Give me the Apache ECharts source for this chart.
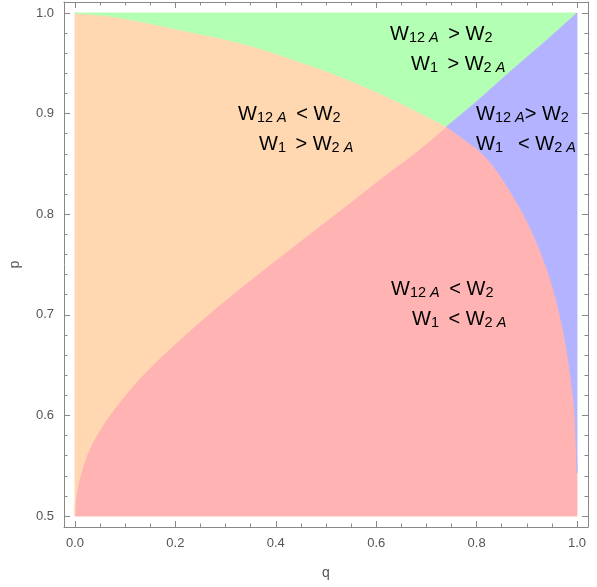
<!DOCTYPE html>
<html>
<head>
<meta charset="utf-8">
<script src="https://cdn.jsdelivr.net/npm/echarts@6/dist/echarts.min.js"></script>
<style>html,body{margin:0;padding:0;background:#fff}#c{width:597px;height:587px}</style>
</head>
<body>
<div id="c"></div>
<script>
// Boundary curve W1 = W2A (q, p)
const c1Q = [0, 0.0006, 0.0022, 0.0057, 0.0107, 0.0234, 0.043, 0.069, 0.100, 0.1354, 0.1758, 0.2195, 0.265, 0.3134, 0.3635, 0.4147, 0.4665, 0.5184, 0.570, 0.621, 0.675, 0.74, 0.80, 0.87, 0.935, 1.0];
const c1P = [0.5, 0.51, 0.52, 0.53, 0.54, 0.56, 0.58, 0.60, 0.62, 0.64, 0.66, 0.68, 0.70, 0.72, 0.74, 0.76, 0.78, 0.80, 0.82, 0.84, 0.86, 0.887, 0.912, 0.943, 0.971, 1.0];
// Boundary curve W12A = W2 (q, p)
const c2Q = [0, 0.08, 0.173, 0.239, 0.306, 0.372, 0.438, 0.504, 0.571, 0.637, 0.703, 0.74, 0.776, 0.809, 0.842, 0.882, 0.909, 0.934, 0.953, 0.968, 0.9796, 0.989, 0.9958, 1.0];
const c2P = [1.0, 0.996, 0.987, 0.980, 0.973, 0.964, 0.953, 0.9415, 0.928, 0.913, 0.8965, 0.887, 0.874, 0.861, 0.842, 0.810, 0.784, 0.754, 0.725, 0.695, 0.665, 0.632, 0.599, 0.543];
const crossQ = 0.74;
const qRange = [0, 1];
const pRange = [0.5, 1];
const xMajor = [0, 0.2, 0.4, 0.6, 0.8, 1.0];
const xMinor = [0.05,0.1,0.15,0.25,0.3,0.35,0.45,0.5,0.55,0.65,0.7,0.75,0.85,0.9,0.95];
const yMajor = [0.5, 0.6, 0.7, 0.8, 0.9, 1.0];
const yMinor = [0.52,0.54,0.56,0.58,0.62,0.64,0.66,0.68,0.72,0.74,0.76,0.78,0.82,0.84,0.86,0.88,0.92,0.94,0.96,0.98];
const regionNames = ['red', 'orange', 'green', 'blue'];
const regionColors = ['#FFB3B3', '#FFD7B1', '#B3FFB3', '#B3B3FF'];

const c1 = c1Q.map((q, i) => [q, c1P[i]]);
const c2 = c2Q.map((q, i) => [q, c2P[i]]);
const i1 = c1Q.indexOf(crossQ), i2 = c2Q.indexOf(crossQ);
const c1Low = c1.slice(0, i1 + 1), c1Up = c1.slice(i1);
const c2Left = c2.slice(0, i2 + 1), c2Right = c2.slice(i2);
const q0 = qRange[0], q1 = qRange[1], p0 = pRange[0], p1 = pRange[1];
const rev = a => a.slice().reverse();
// region outlines: list of pieces [points, smooth]
const regions = {
  red: [[c1Low, true], [c2Right, true], [[c2Right[c2Right.length - 1], [q1, p0]], false]],
  orange: [[c2Left, true], [rev(c1Low), true]],
  green: [[c2Left, true], [c1Up, true]],
  blue: [[c1Up, true], [[[q1, p1], c2Right[c2Right.length - 1]], false], [rev(c2Right), true]]
};

// smooth drawing of a boundary through its points (Catmull-Rom in pixel space)
function smoothPixels(px) {
  const out = [px[0]];
  const n = px.length;
  for (let i = 0; i < n - 1; i++) {
    const a = px[Math.max(i - 1, 0)], b = px[i], c = px[i + 1], d = px[Math.min(i + 2, n - 1)];
    const cp1 = [b[0] + (c[0] - a[0]) / 6, b[1] + (c[1] - a[1]) / 6];
    const cp2 = [c[0] - (d[0] - b[0]) / 6, c[1] - (d[1] - b[1]) / 6];
    const steps = 10;
    for (let s = 1; s <= steps; s++) {
      const t = s / steps, u = 1 - t;
      out.push([
        u*u*u*b[0] + 3*u*u*t*cp1[0] + 3*u*t*t*cp2[0] + t*t*t*c[0],
        u*u*u*b[1] + 3*u*u*t*cp1[1] + 3*u*t*t*cp2[1] + t*t*t*c[1]
      ]);
    }
  }
  return out;
}

const XMIN = -0.0218, XMAX = 1.0218, YMIN = 0.4891, YMAX = 1.0109;
const frameColor = '#888';
const labelColor = '#555';
const font = 'Liberation Sans, Arial, sans-serif';

function xAx(pos, major, showLabel) {
  return {
    type: 'value', min: XMIN, max: XMAX, position: pos,
    axisLine: { show: major, onZero: false, lineStyle: { color: frameColor, width: 1 } },
    axisTick: { show: true, inside: true, length: major ? 6 : 3.5, customValues: major ? xMajor : xMinor, lineStyle: { color: frameColor } },
    axisLabel: { show: showLabel, customValues: xMajor, formatter: v => v.toFixed(1), color: labelColor, fontSize: 13, fontFamily: font, margin: 10 },
    splitLine: { show: false },
    name: showLabel ? 'q' : '', nameLocation: 'middle', nameGap: 39,
    nameTextStyle: { color: labelColor, fontSize: 14, fontFamily: font }
  };
}
function yAx(pos, major, showLabel) {
  return {
    type: 'value', min: YMIN, max: YMAX, position: pos,
    axisLine: { show: major, onZero: false, lineStyle: { color: frameColor, width: 1 } },
    axisTick: { show: true, inside: true, length: major ? 6 : 3.5, customValues: major ? yMajor : yMinor, lineStyle: { color: frameColor } },
    axisLabel: { show: showLabel, customValues: yMajor, formatter: v => v.toFixed(1), color: labelColor, fontSize: 13, fontFamily: font, margin: 10 },
    splitLine: { show: false },
    name: showLabel ? 'p' : '', nameLocation: 'middle', nameGap: 42,
    nameTextStyle: { color: labelColor, fontSize: 14, fontFamily: font }
  };
}

const series = regionNames.map((name, k) => ({
  type: 'custom', name: name, xAxisIndex: 0, yAxisIndex: 0,
  data: [[0, 0]], silent: true, z: 2,
  renderItem: function (params, api) {
    let pts = [];
    regions[name].forEach(([piece, smooth]) => {
      const px = piece.map(d => api.coord(d));
      const seg = smooth ? smoothPixels(px) : px;
      pts = pts.concat(pts.length ? seg.slice(1) : seg);
    });
    return { type: 'polygon', shape: { points: pts }, style: { fill: regionColors[k], stroke: regionColors[k], lineWidth: 0.8 } };
  }
}));

const rich = {
  m: { fontSize: 20, fontFamily: font, fill: '#000', lineHeight: 24, verticalAlign: 'bottom', padding: [0, 0, 1, 0] },
  o: { fontSize: 20, fontFamily: font, fill: '#000', lineHeight: 24, verticalAlign: 'bottom', padding: [0, 0, 1, 4] },
  s: { fontSize: 14.5, fontFamily: font, fill: '#000', lineHeight: 14, verticalAlign: 'bottom' },
  si: { fontSize: 14.5, fontFamily: font, fontStyle: 'italic', fill: '#000', lineHeight: 14, verticalAlign: 'bottom' }
};
function txt(x, y, t) {
  return { type: 'text', x: x, y: y, z: 100, silent: true, style: { text: t, rich: rich, fill: '#000', verticalAlign: 'bottom', align: 'left' } };
}
const L_12A_gt = '{m|W}{s|12 }{si|A}{o| > W}{s|2}';
const L_12A_lt = '{m|W}{s|12 }{si|A}{o| < W}{s|2}';
const L_1_gt = '{m|W}{s|1}{o| > W}{s|2 }{si|A}';
const L_1_lt = '{m|W}{s|1}{o| < W}{s|2 }{si|A}';

const chart = echarts.init(document.getElementById('c'), null, { renderer: 'canvas' });
chart.setOption({
  animation: false,
  grid: { left: 62, right: 9, top: 2, bottom: 60 },
  xAxis: [xAx('bottom', true, true), xAx('bottom', false, false), xAx('top', true, false), xAx('top', false, false)],
  yAxis: [yAx('left', true, true), yAx('left', false, false), yAx('right', true, false), yAx('right', false, false)],
  series: series,
  graphic: [
    txt(390, 45, L_12A_gt), txt(411, 75, L_1_gt),
    txt(238, 125, L_12A_lt), txt(259, 155, L_1_gt),
    txt(391, 300, L_12A_lt), txt(412, 330, L_1_lt),
    txt(476, 125, '{m|W}{s|12 }{si|A}{m|> W}{s|2}'), txt(476, 155, '{m|W}{s|1}{o|  < W}{s|2 }{si|A}')
  ]
});
</script>
</body>
</html>
